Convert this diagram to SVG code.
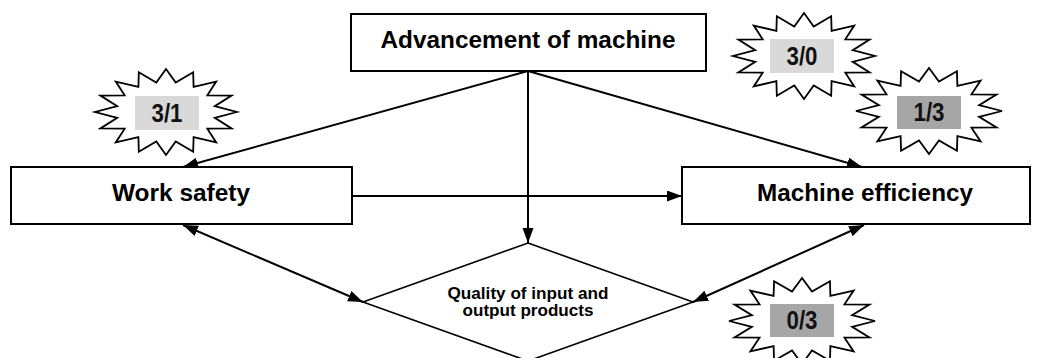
<svg xmlns="http://www.w3.org/2000/svg" xmlns:xlink="http://www.w3.org/1999/xlink" width="1040" height="358" viewBox="0 0 1040 358">
<style>
.box{fill:#fff;stroke:#000;stroke-width:2}
.lbl{font-family:"Liberation Sans",Arial,sans-serif;font-weight:bold;fill:#000;text-anchor:middle}
.big{font-size:23px}
.small{font-size:16px}
.num{font-size:25px;fill:#111}
.star{fill:#fff;stroke:#000;stroke-width:1.8;vector-effect:non-scaling-stroke;stroke-linejoin:miter}
.conn{stroke:#000;stroke-width:2;fill:none}
</style>
<defs>
<marker id="ah" markerUnits="userSpaceOnUse" markerWidth="16" markerHeight="12" refX="15" refY="5.5" orient="auto-start-reverse">
<path d="M0,0 L15,5.5 L0,11 z" fill="#000"/>
</marker>
<polygon id="star" class="star" points="1,0 0.6866,0.1366 0.9239,0.3827 0.5821,0.3889 0.7071,0.7071 0.3889,0.5821 0.3827,0.9239 0.1366,0.6866 0,1 -0.1366,0.6866 -0.3827,0.9239 -0.3889,0.5821 -0.7071,0.7071 -0.5821,0.3889 -0.9239,0.3827 -0.6866,0.1366 -1,0 -0.6866,-0.1366 -0.9239,-0.3827 -0.5821,-0.3889 -0.7071,-0.7071 -0.3889,-0.5821 -0.3827,-0.9239 -0.1366,-0.6866 0,-1 0.1366,-0.6866 0.3827,-0.9239 0.3889,-0.5821 0.7071,-0.7071 0.5821,-0.3889 0.9239,-0.3827 0.6866,-0.1366"/>
</defs>
<rect width="1040" height="358" fill="#fff"/>

<g id="connectors">
<line class="conn" x1="528" y1="71" x2="183" y2="167" marker-end="url(#ah)"/>
<line class="conn" x1="528" y1="71" x2="862" y2="167" marker-end="url(#ah)"/>
<line class="conn" x1="528" y1="71" x2="528" y2="243" marker-end="url(#ah)"/>
<line class="conn" x1="352" y1="196" x2="682" y2="196" marker-end="url(#ah)"/>
<line class="conn" x1="183" y1="225" x2="363" y2="302" marker-start="url(#ah)" marker-end="url(#ah)"/>
<line class="conn" x1="864" y1="225" x2="693" y2="302" marker-start="url(#ah)" marker-end="url(#ah)"/>
</g>

<g id="node-advancement">
<rect class="box" x="351" y="14" width="355" height="57"/>
<text class="lbl big" x="528" y="48" textLength="295" lengthAdjust="spacingAndGlyphs">Advancement of machine</text>
</g>

<g id="node-worksafety">
<rect class="box" x="11" y="167" width="341" height="57"/>
<text class="lbl big" x="181" y="201" textLength="138" lengthAdjust="spacingAndGlyphs">Work safety</text>
</g>

<g id="node-efficiency">
<rect class="box" x="682" y="167" width="348" height="57"/>
<text class="lbl big" x="865" y="201" textLength="216" lengthAdjust="spacingAndGlyphs">Machine efficiency</text>
</g>

<g id="node-quality">
<polygon points="528,243 693,302 528,361 363,302" fill="#fff" stroke="#000" stroke-width="1.6"/>
<text class="lbl small" x="528" y="299" textLength="161" lengthAdjust="spacingAndGlyphs">Quality of input and</text>
<text class="lbl small" x="528" y="316" textLength="131" lengthAdjust="spacingAndGlyphs">output products</text>
</g>

<g id="badge-31">
<use xlink:href="#star" transform="translate(166,112) scale(71,43)"/>
<rect x="135" y="96" width="64" height="34" fill="#d9d9d9"/>
<text class="lbl num" x="167" y="122" textLength="31" lengthAdjust="spacingAndGlyphs">3/1</text>
</g>

<g id="badge-30">
<use xlink:href="#star" transform="translate(804,56) scale(71,43)"/>
<rect x="770" y="39" width="64" height="34" fill="#d9d9d9"/>
<text class="lbl num" x="802" y="65" textLength="31" lengthAdjust="spacingAndGlyphs">3/0</text>
</g>

<g id="badge-13">
<use xlink:href="#star" transform="translate(929,111) scale(73,43)"/>
<rect x="897" y="96" width="64" height="33" fill="#a6a6a6"/>
<text class="lbl num" x="929" y="121" textLength="31" lengthAdjust="spacingAndGlyphs">1/3</text>
</g>

<g id="badge-03">
<use xlink:href="#star" transform="translate(802,321) scale(73,43)"/>
<rect x="770" y="304" width="64" height="33" fill="#a6a6a6"/>
<text class="lbl num" x="802" y="329" textLength="31" lengthAdjust="spacingAndGlyphs">0/3</text>
</g>
</svg>
